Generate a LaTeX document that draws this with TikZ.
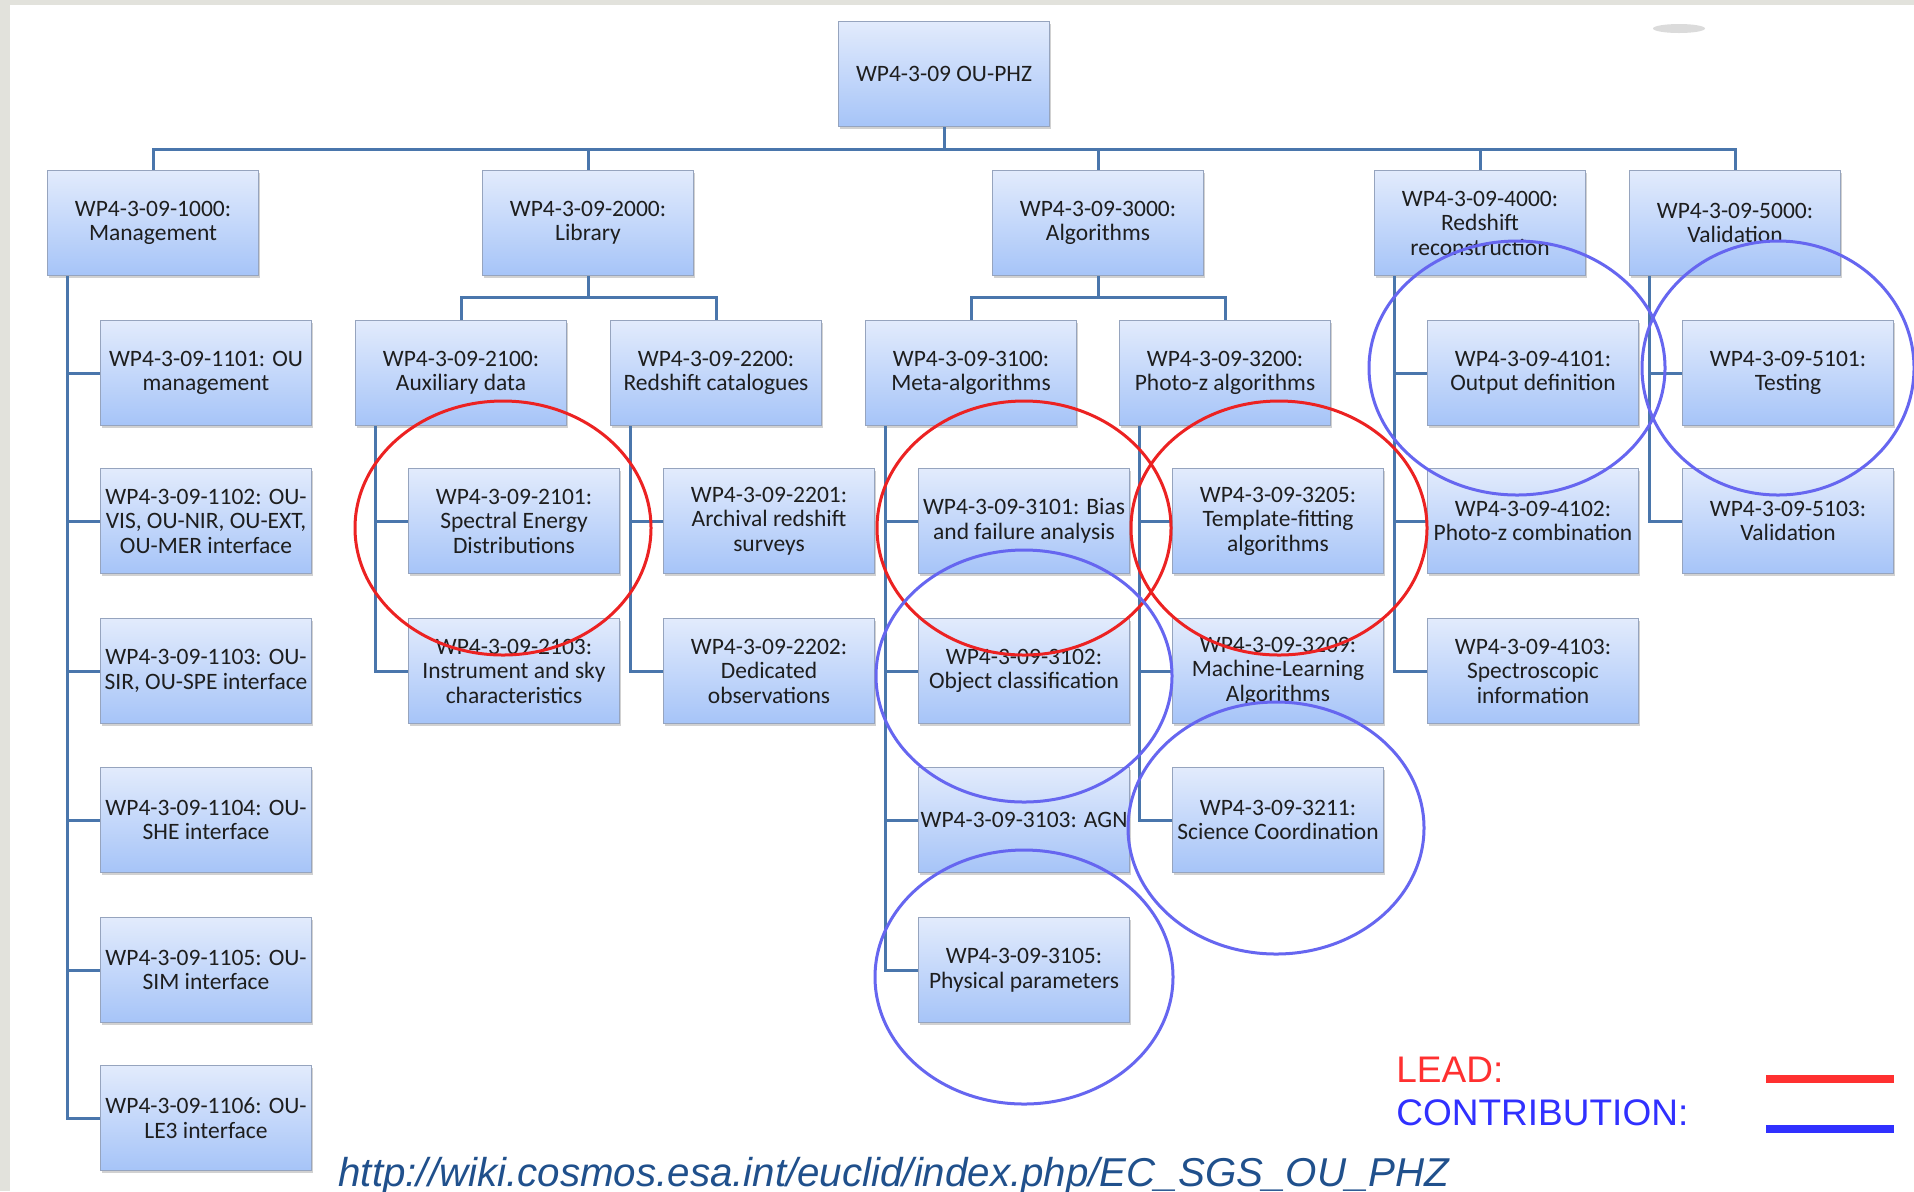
\documentclass[tikz,border=0pt]{standalone}
\usepackage{fontspec}
\usepackage{tikz}
\usetikzlibrary{shadows}
\newfontfamily\wpfont{Carlito}
\newfontfamily\legfont{Liberation Sans}

\definecolor{slidegray}{RGB}{226,226,220}
\definecolor{boxtop}{RGB}{226,235,252}
\definecolor{boxbot}{RGB}{166,196,248}
\definecolor{boxedge}{RGB}{150,164,190}
\definecolor{linkblue}{RGB}{74,118,172}
\definecolor{wptext}{RGB}{30,30,30}
\definecolor{leadred}{RGB}{236,34,34}
\definecolor{contribblue}{RGB}{102,102,240}
\definecolor{legred}{RGB}{255,48,48}
\definecolor{legblue}{RGB}{48,48,255}
\definecolor{urlblue}{RGB}{32,80,140}

\tikzset{
  wpbox/.style={draw=boxedge, line width=0.5pt, top color=boxtop, bottom color=boxbot,
    minimum width=105.5pt, minimum height=52.5pt, inner sep=1pt, align=center,
    text=wptext, font=\wpfont\fontsize{11.75}{12.25}\selectfont,
    drop shadow={shadow xshift=0.8pt, shadow yshift=-1pt, fill=black!40, opacity=0.45}},
  link/.style={draw=linkblue, line width=1.5pt},
  leadring/.style={draw=leadred, line width=1.5pt},
  contribring/.style={draw=contribblue, line width=1.5pt},
  legtext/.style={inner sep=0pt, anchor=base west, font=\legfont\fontsize{18.5}{20}\selectfont},
}

\begin{document}
\begin{tikzpicture}[x=0.5pt,y=-0.5pt]
\useasboundingbox (0,0) rectangle (1914,1191);
\fill[slidegray] (0,0) rectangle (1914,1191);
\fill[white] (10,5) rectangle (1914,1191);
\fill[black!14] (1679,28.5) ellipse [x radius=26, y radius=4.5];

\node[wpbox] (root) at (944,74) {WP4-3-09 OU-PHZ};

\node[wpbox] (n1000) at (153,223) {WP4-3-09-1000:\\Management};
\node[wpbox] (n2000) at (588,223) {WP4-3-09-2000:\\Library};
\node[wpbox] (n3000) at (1098,223) {WP4-3-09-3000:\\Algorithms};
\node[wpbox] (n4000) at (1480,223) {WP4-3-09-4000:\\Redshift\\reconstruction};
\node[wpbox] (n5000) at (1735,223) {WP4-3-09-5000:\\Validation};

\node[wpbox] (n1101) at (206,373) {WP4-3-09-1101: OU\\management};
\node[wpbox] (n1102) at (206,521) {WP4-3-09-1102: OU-\\VIS, OU-NIR, OU-EXT,\\OU-MER interface};
\node[wpbox] (n1103) at (206,671) {WP4-3-09-1103: OU-\\SIR, OU-SPE interface};
\node[wpbox] (n1104) at (206,820) {WP4-3-09-1104: OU-\\SHE interface};
\node[wpbox] (n1105) at (206,970) {WP4-3-09-1105: OU-\\SIM interface};
\node[wpbox] (n1106) at (206,1118) {WP4-3-09-1106: OU-\\LE3 interface};

\node[wpbox] (n2100) at (461,373) {WP4-3-09-2100:\\Auxiliary data};
\node[wpbox] (n2101) at (514,521) {WP4-3-09-2101:\\Spectral Energy\\Distributions};
\node[wpbox] (n2103) at (514,671) {WP4-3-09-2103:\\Instrument and sky\\characteristics};

\node[wpbox] (n2200) at (716,373) {WP4-3-09-2200:\\Redshift catalogues};
\node[wpbox] (n2201) at (769,521) {WP4-3-09-2201:\\Archival redshift\\surveys};
\node[wpbox] (n2202) at (769,671) {WP4-3-09-2202:\\Dedicated\\observations};

\node[wpbox] (n3100) at (971,373) {WP4-3-09-3100:\\Meta-algorithms};
\node[wpbox] (n3101) at (1024,521) {WP4-3-09-3101: Bias\\and failure analysis};
\node[wpbox] (n3102) at (1024,671) {WP4-3-09-3102:\\Object classification};
\node[wpbox] (n3103) at (1024,820) {WP4-3-09-3103: AGN};
\node[wpbox] (n3105) at (1024,970) {WP4-3-09-3105:\\Physical parameters};

\node[wpbox] (n3200) at (1225,373) {WP4-3-09-3200:\\Photo-z algorithms};
\node[wpbox] (n3205) at (1278,521) {WP4-3-09-3205:\\Template-fitting\\algorithms};
\node[wpbox] (n3209) at (1278,671) {WP4-3-09-3209:\\Machine-Learning\\Algorithms};
\node[wpbox] (n3211) at (1278,820) {WP4-3-09-3211:\\Science Coordination};

\node[wpbox] (n4101) at (1533,373) {WP4-3-09-4101:\\Output definition};
\node[wpbox] (n4102) at (1533,521) {WP4-3-09-4102:\\Photo-z combination};
\node[wpbox] (n4103) at (1533,671) {WP4-3-09-4103:\\Spectroscopic\\information};

\node[wpbox] (n5101) at (1788,373) {WP4-3-09-5101:\\Testing};
\node[wpbox] (n5103) at (1788,521) {WP4-3-09-5103:\\Validation};

\draw[link] (root.south) -- ++(0,22) -| (n1000.north);
\draw[link] (root.south) -- ++(0,22) -| (n2000.north);
\draw[link] (root.south) -- ++(0,22) -| (n3000.north);
\draw[link] (root.south) -- ++(0,22) -| (n4000.north);
\draw[link] (root.south) -- ++(0,22) -| (n5000.north);

\draw[link] (n2000.south) -- ++(0,21) -| (n2100.north);
\draw[link] (n2000.south) -- ++(0,21) -| (n2200.north);
\draw[link] (n3000.south) -- ++(0,21) -| (n3100.north);
\draw[link] (n3000.south) -- ++(0,21) -| (n3200.north);

\draw[link] ([xshift=10pt]n1000.south west) |- (n1101.west);
\draw[link] ([xshift=10pt]n1000.south west) |- (n1102.west);
\draw[link] ([xshift=10pt]n1000.south west) |- (n1103.west);
\draw[link] ([xshift=10pt]n1000.south west) |- (n1104.west);
\draw[link] ([xshift=10pt]n1000.south west) |- (n1105.west);
\draw[link] ([xshift=10pt]n1000.south west) |- (n1106.west);

\draw[link] ([xshift=10pt]n2100.south west) |- (n2101.west);
\draw[link] ([xshift=10pt]n2100.south west) |- (n2103.west);
\draw[link] ([xshift=10pt]n2200.south west) |- (n2201.west);
\draw[link] ([xshift=10pt]n2200.south west) |- (n2202.west);

\draw[link] ([xshift=10pt]n3100.south west) |- (n3101.west);
\draw[link] ([xshift=10pt]n3100.south west) |- (n3102.west);
\draw[link] ([xshift=10pt]n3100.south west) |- (n3103.west);
\draw[link] ([xshift=10pt]n3100.south west) |- (n3105.west);
\draw[link] ([xshift=10pt]n3200.south west) |- (n3205.west);
\draw[link] ([xshift=10pt]n3200.south west) |- (n3209.west);
\draw[link] ([xshift=10pt]n3200.south west) |- (n3211.west);

\draw[link] ([xshift=10pt]n4000.south west) |- (n4101.west);
\draw[link] ([xshift=10pt]n4000.south west) |- (n4102.west);
\draw[link] ([xshift=10pt]n4000.south west) |- (n4103.west);
\draw[link] ([xshift=10pt]n5000.south west) |- (n5101.west);
\draw[link] ([xshift=10pt]n5000.south west) |- (n5103.west);

\draw[leadring] (503,528) ellipse [x radius=148, y radius=127];
\draw[leadring] (1024,528) ellipse [x radius=147, y radius=127];
\draw[leadring] (1279,528) ellipse [x radius=148, y radius=127];

\draw[contribring] (1517,368) ellipse [x radius=148, y radius=127];
\draw[contribring] (1778,368) ellipse [x radius=136, y radius=127];
\draw[contribring] (1024,676) ellipse [x radius=148, y radius=126];
\draw[contribring] (1276,828) ellipse [x radius=148, y radius=126];
\draw[contribring] (1024,977) ellipse [x radius=149, y radius=127];

\node[legtext, text=legred] (lead) at (1396,1082) {LEAD:};
\node[legtext, text=legblue] (contrib) at (1396,1125) {CONTRIBUTION:};
\draw[legred, line width=4pt] (1766,1079) -- (1894,1079);
\draw[legblue, line width=4pt] (1766,1129) -- (1894,1129);

\node[inner sep=0pt, anchor=base west, text=urlblue, font=\legfont\itshape\fontsize{20.15}{22}\selectfont] (url) at (338,1186) {http://wiki.cosmos.esa.int/euclid/index.php/EC\_SGS\_OU\_PHZ};

\end{tikzpicture}
\end{document}
